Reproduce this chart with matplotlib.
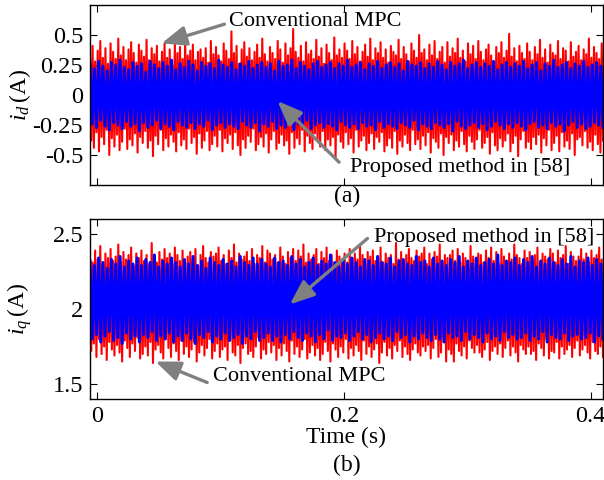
import numpy as np
import matplotlib
matplotlib.use('Agg')
import matplotlib.pyplot as plt

# time span of the record (s)
t_start, t_end = -0.006, 0.41

# --- panel (a): d-axis current, peaks/troughs in units of 0.01 A ---
conv_d_hi = [34, 41, 28, 37, 45, 31, 39, 26, 43, 36, 30, 47, 33, 40, 29, 38, 44, 35, 27, 42,
             37, 32, 46, 29, 39, 34, 41, 28, 36, 43, 31, 38, 25, 44, 35, 40, 30, 48, 33, 37,
             42, 29, 36, 38, 31, 39, 27, 45, 34, 40, 33, 28, 43, 37, 30, 53, 35, 41, 26, 38,
             44, 32, 39, 29, 36, 42, 31, 47, 34, 28, 40, 35, 30, 45, 38, 27, 43, 33, 39, 55,
             36, 31, 41, 28, 44, 34, 37, 30, 46, 32, 39, 26, 42, 35, 29, 48, 33, 38, 31, 43,
             37, 30, 45, 34, 40, 28, 36, 42, 32, 47, 29, 39, 35, 44, 31, 38, 27, 41, 36, 33,
             46, 30, 40, 34, 28, 43, 37, 31, 50, 35, 38, 29, 42, 33, 45, 30, 36, 40, 27, 44,
             32, 39, 35, 47, 31, 37, 28, 43, 34, 41, 30, 45, 36, 29, 38, 42, 33, 26, 40, 35,
             44, 31, 37, 51, 32, 39, 28, 41, 35, 30, 43, 36, 29, 40, 34, 46, 31, 38, 27, 42,
             35, 33, 45, 30, 39, 37, 28, 44, 32, 36, 41, 29, 38, 34, 47, 31, 40, 35, 30, 43]
conv_d_lo = [-38, -44, -31, -47, -35, -41, -29, -50, -36, -43, -33, -46, -39, -28, -45, -37, -42, -32, -48, -35,
             -40, -30, -44, -38, -51, -34, -41, -29, -46, -36, -43, -33, -39, -47, -31, -42, -37, -45, -28, -40,
             -35, -49, -32, -44, -38, -30, -46, -41, -34, -43, -29, -47, -36, -40, -33, -45, -31, -42, -50, -37,
             -44, -34, -39, -28, -46, -41, -35, -43, -32, -48, -37, -30, -45, -40, -33, -42, -38, -49, -31, -44,
             -36, -41, -29, -47, -34, -40, -45, -32, -38, -43, -30, -46, -37, -42, -35, -52, -33, -39, -44, -31,
             -41, -36, -48, -29, -43, -38, -34, -46, -40, -32, -45, -35, -39, -31, -47, -42, -36, -44, -30, -49,
             -38, -43, -33, -40, -46, -29, -41, -37, -45, -34, -42, -31, -48, -36, -39, -44, -32, -50, -35, -40,
             -33, -46, -38, -43, -30, -41, -47, -34, -39, -45, -37, -29, -44, -40, -35, -49, -31, -42, -46, -36,
             -43, -38, -32, -47, -40, -34, -51, -37, -30, -44, -39, -45, -35, -41, -33, -48, -36, -42, -29, -46,
             -40, -34, -47, -31, -43, -38, -45, -32, -50, -37, -35, -42, -30, -44, -39, -46, -33, -41, -48, -38]
prop_d_hi = [26, 22, 28, 24, 20, 27, 25, 29, 23, 21, 27, 24, 26, 19, 28, 25, 22, 27, 24, 29,
             21, 26, 23, 28, 25, 20, 27, 24, 26, 22, 29, 25, 23, 27, 21, 26, 24, 28, 22, 25,
             27, 23, 26, 20, 28, 24, 25, 29, 22, 27, 24, 21, 26, 28, 23, 25, 27, 22, 26, 24,
             29, 23, 25, 27, 21, 26, 24, 28, 22, 25, 27, 23, 26, 20, 28, 25, 24, 27, 22, 26,
             23, 28, 25, 21, 27, 24, 26, 29, 22, 25, 27, 23, 26, 24, 28, 21, 25, 27, 23, 26,
             24, 28, 22, 25, 27, 20, 26, 24, 29, 23, 25, 27, 22, 26, 24, 28, 23, 25, 27, 24]
prop_d_lo = [-24, -27, -21, -26, -29, -23, -25, -28, -22, -26, -24, -30, -23, -27, -25, -21, -28, -24, -26, -29,
             -22, -25, -27, -23, -28, -24, -26, -21, -29, -25, -23, -27, -24, -26, -28, -22, -25, -27, -23, -30,
             -24, -26, -22, -28, -25, -27, -23, -29, -24, -26, -21, -28, -25, -23, -27, -24, -26, -29, -22, -25,
             -27, -24, -28, -23, -26, -25, -29, -22, -27, -24, -26, -28, -23, -25, -27, -21, -29, -24, -26, -28,
             -23, -25, -27, -24, -30, -22, -26, -28, -25, -23, -27, -24, -29, -26, -22, -25, -28, -24, -27, -23,
             -26, -29, -24, -22, -27, -25, -28, -23, -26, -24, -30, -25, -22, -27, -24, -28, -26, -23, -25, -27]

# --- panel (b): q-axis current, peaks/troughs in units of 0.01 A ---
conv_q_hi = [236, 231, 239, 233, 242, 230, 237, 234, 240, 232, 235, 243, 231, 238, 233, 236, 241, 229, 237, 234,
             239, 232, 236, 230, 244, 235, 231, 238, 233, 240, 234, 237, 230, 241, 236, 232, 239, 231, 235, 238,
             233, 240, 229, 236, 242, 234, 231, 238, 235, 237, 241, 232, 236, 230, 239, 234, 243, 231, 237, 233,
             235, 238, 232, 240, 230, 236, 234, 242, 231, 239, 237, 233, 236, 231, 241, 235, 230, 238, 234, 240,
             232, 239, 235, 243, 231, 237, 233, 236, 240, 230, 238, 234, 241, 232, 236, 230, 239, 235, 233, 237,
             231, 240, 234, 237, 233, 242, 236, 230, 238, 235, 239, 232, 235, 241, 231, 237, 234, 236, 230, 244,
             233, 238, 231, 236, 240, 234, 232, 239, 235, 237, 241, 230, 237, 233, 238, 235, 243, 231, 236, 234,
             236, 239, 232, 240, 231, 237, 234, 230, 242, 235, 233, 237, 236, 231, 239, 234, 241, 232, 238, 230,
             240, 235, 231, 237, 233, 243, 236, 234, 230, 239, 234, 238, 232, 236, 241, 231, 237, 235, 233, 240,
             237, 231, 239, 234, 236, 242, 230, 238, 235, 232, 235, 240, 233, 237, 231, 239, 234, 236, 241, 233]
conv_q_lo = [172, 177, 168, 180, 170, 175, 166, 178, 173, 169, 176, 171, 165, 179, 174, 168, 177, 172, 181, 167,
             170, 175, 169, 178, 164, 173, 176, 171, 167, 180, 174, 168, 177, 172, 166, 179, 170, 175, 168, 173,
             178, 165, 171, 176, 169, 174, 180, 167, 172, 177, 168, 173, 175, 166, 179, 171, 169, 176, 164, 174,
             177, 170, 172, 168, 175, 181, 167, 173, 170, 178, 171, 176, 166, 174, 169, 177, 172, 165, 179, 170,
             175, 168, 173, 180, 167, 171, 176, 169, 174, 166, 170, 178, 172, 165, 177, 173, 168, 175, 171, 180,
             167, 174, 169, 176, 172, 166, 179, 170, 175, 168, 173, 177, 164, 171, 178, 169, 174, 167, 176, 172,
             179, 168, 175, 170, 166, 173, 177, 171, 169, 175, 172, 176, 167, 174, 180, 168, 171, 178, 165, 173,
             170, 165, 177, 172, 169, 175, 167, 179, 174, 171, 176, 171, 168, 173, 178, 166, 172, 175, 170, 177,
             168, 174, 179, 169, 175, 171, 165, 176, 173, 170, 175, 170, 172, 166, 177, 174, 169, 180, 167, 172,
             171, 178, 167, 175, 170, 173, 176, 168, 174, 179, 169, 173, 176, 171, 167, 178, 172, 170, 175, 168]
prop_q_hi = [232, 229, 234, 231, 227, 233, 230, 235, 228, 232, 230, 234, 229, 233, 231, 236, 228, 232, 230, 234,
             231, 228, 233, 230, 235, 229, 232, 227, 234, 231, 229, 233, 230, 232, 228, 235, 231, 229, 234, 230,
             233, 230, 228, 234, 231, 232, 229, 235, 230, 233, 228, 231, 234, 229, 232, 230, 236, 231, 228, 233,
             230, 234, 231, 228, 233, 232, 229, 235, 231, 230, 234, 228, 232, 233, 230, 229, 235, 231, 232, 228,
             234, 230, 232, 229, 233, 231, 235, 228, 232, 230, 234, 229, 231, 233, 230, 236, 229, 232, 231, 234,
             229, 233, 231, 235, 228, 232, 230, 234, 231, 229, 233, 230, 235, 228, 232, 231, 234, 229, 233, 230]
prop_q_lo = [180, 183, 178, 182, 185, 179, 181, 177, 184, 180, 182, 178, 183, 181, 185, 179, 182, 180, 184, 178,
             182, 179, 184, 180, 177, 183, 181, 185, 178, 182, 180, 184, 179, 181, 183, 177, 182, 180, 185, 179,
             181, 184, 179, 182, 178, 183, 180, 185, 181, 179, 184, 182, 178, 183, 180, 186, 179, 182, 181, 184,
             179, 182, 185, 180, 183, 178, 181, 184, 180, 182, 179, 185, 181, 183, 178, 182, 180, 184, 181, 179,
             183, 180, 178, 184, 181, 182, 179, 185, 180, 183, 181, 178, 184, 180, 182, 179, 185, 181, 183, 180,
             181, 184, 179, 182, 180, 185, 178, 183, 181, 180, 184, 179, 182, 183, 180, 181, 184, 178, 182, 180]

x_ticks = [0, 0.2, 0.4]
x_tick_labels = ['0', '0.2', '0.4']
d_ticks = [-0.5, -0.25, 0, 0.25, 0.5]
d_tick_labels = ['-0.5', '-0.25', '0', '0.25', '0.5']
q_ticks = [1.5, 2, 2.5]
q_tick_labels = ['1.5', '2', '2.5']


def zigzag(hi, lo):
    """Interleave peak and trough values into one ripple trace (A)."""
    y = np.empty(2 * len(hi))
    y[0::2] = np.array(hi) / 100.0
    y[1::2] = np.array(lo) / 100.0
    t = np.linspace(t_start, t_end, len(y))
    return t, y


plt.rcParams['font.family'] = 'Liberation Serif'
plt.rcParams['mathtext.fontset'] = 'custom'
plt.rcParams['mathtext.rm'] = 'Liberation Serif'
plt.rcParams['mathtext.it'] = 'Liberation Serif:italic'
plt.rcParams['font.size'] = 16

fig = plt.figure(figsize=(6.04, 4.80), dpi=100)
ax1 = fig.add_axes([90 / 604, 1 - 185 / 480, 513 / 604, 180 / 480])
ax2 = fig.add_axes([90 / 604, 1 - 399 / 480, 513 / 604, 180 / 480])

arrow_kw = dict(arrowstyle='-|>,head_length=0.75,head_width=0.3', color='#808080',
                lw=2.4, mutation_scale=20, shrinkA=0, shrinkB=0)

# panel (a)
t, y = zigzag(conv_d_hi, conv_d_lo)
ax1.plot(t, y, color='red', lw=1.5)
t, y = zigzag(prop_d_hi, prop_d_lo)
ax1.plot(t, y, color='blue', lw=2.2)
ax1.set_ylim(-0.75, 0.75)
ax1.set_yticks(d_ticks)
ax1.set_yticklabels(d_tick_labels)
ax1.set_ylabel(r'$i_d\,$(A)', va='center', fontsize=17)
ax1.yaxis.set_label_coords(-0.137, 0.5)
ax1.set_xticklabels([])

ax1.annotate('', xy=(0.052, 0.43), xytext=(0.103, 0.59), arrowprops=arrow_kw)
ax1.text(0.107, 0.61, 'Conventional MPC', ha='left', va='center')
ax1.annotate('', xy=(0.146, -0.05), xytext=(0.196, -0.56), arrowprops=arrow_kw)
ax1.text(0.205, -0.60, 'Proposed method in [58]', ha='left', va='center')

# panel (b)
t, y = zigzag(conv_q_hi, conv_q_lo)
ax2.plot(t, y, color='red', lw=1.5)
t, y = zigzag(prop_q_hi, prop_q_lo)
ax2.plot(t, y, color='blue', lw=2.2)
ax2.set_ylim(1.4, 2.6)
ax2.set_yticks(q_ticks)
ax2.set_yticklabels(q_tick_labels)
ax2.set_ylabel(r'$i_q\,$(A)', va='center', fontsize=17)
ax2.yaxis.set_label_coords(-0.137, 0.5)
ax2.set_xticklabels(x_tick_labels)
ax2.set_xlabel('Time (s)', labelpad=0, fontsize=17)

ax2.annotate('', xy=(0.156, 2.03), xytext=(0.219, 2.47), arrowprops=arrow_kw)
ax2.text(0.224, 2.48, 'Proposed method in [58]', ha='left', va='center')
ax2.annotate('', xy=(0.047, 1.65), xytext=(0.089, 1.51), arrowprops=arrow_kw)
ax2.text(0.094, 1.547, 'Conventional MPC', ha='left', va='center')

for ax in (ax1, ax2):
    ax.set_xlim(t_start, t_end)
    ax.set_xticks(x_ticks)
    ax.tick_params(direction='in', top=True, right=True, length=5, width=0.8,
                   pad=5, labelsize=17.5)
    for s in ax.spines.values():
        s.set_linewidth(1.0)

fig.text(347 / 604, 1 - 196 / 480, '(a)', ha='center', va='center', fontsize=17)
fig.text(347 / 604, 1 - 465 / 480, '(b)', ha='center', va='center', fontsize=17)

fig.savefig('out.png', dpi=100)
